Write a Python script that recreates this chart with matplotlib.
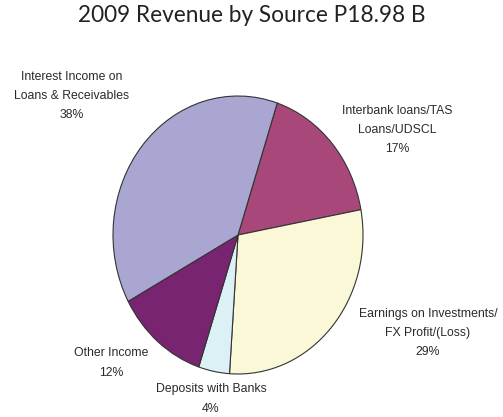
import matplotlib
matplotlib.use('Agg')
import matplotlib.pyplot as plt

# slices, clockwise from the top
labels = ['Interbank loans/TAS\nLoans/UDSCL', 'Earnings on Investments/\nFX Profit/(Loss)',
          'Deposits with Banks', 'Other Income', 'Interest Income on\nLoans & Receivables']
shares = [17, 29, 4, 12, 38]
colors = ['#a8487a', '#fbf8d8', '#dcf1f5', '#782470', '#a9a6d2']
title = '2009 Revenue by Source P18.98 B'

W, H = 503, 417
fig = plt.figure(figsize=(W / 100, H / 100), dpi=100)

# pie is a bit taller than wide in the original
cx, cy, rx, ry = 238, 235, 125, 139
ax = fig.add_axes([(cx - rx) / W, (H - cy - ry) / H, 2 * rx / W, 2 * ry / H])
ax.pie(shares, colors=colors, startangle=71.7, counterclock=False,
       wedgeprops=dict(edgecolor='#333333', linewidth=0.8))
ax.set_aspect('auto')
ax.set_xlim(-1, 1)
ax.set_ylim(-1, 1)
ax.axis('off')

fig.text(0.5, 1 - 15 / H, title, ha='center', va='center', fontsize=16.3,
         family=['Lato', 'DejaVu Sans'], color='#222222')

# label positions in pixels (center of text block)
label_pos = [(397, 130), (428, 333), (211, 399), (111, 363), (72, 96)]
lab_font = ['Liberation Sans', 'DejaVu Sans']
for lab, val, (x, y) in zip(labels, shares, label_pos):
    fig.text(x / W, 1 - y / H, f'{lab}\n{val}%', ha='center', va='center',
             fontsize=8.8, family=lab_font, color='#2a2a2a', linespacing=1.8)

fig.savefig('out.png', dpi=100)
